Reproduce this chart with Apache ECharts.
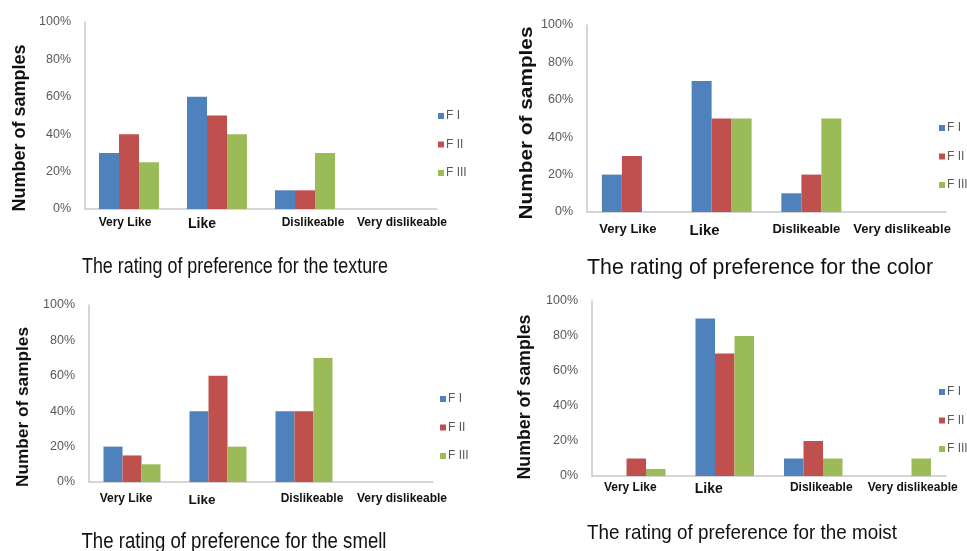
<!DOCTYPE html>
<html>
<head>
<meta charset="utf-8">
<title>Preference ratings</title>
<script src="https://cdn.jsdelivr.net/npm/echarts@6/dist/echarts.min.js"></script>
<style>
  html, body { margin: 0; padding: 0; background: #ffffff; }
  #chart { width: 967px; height: 551px; }
</style>
</head>
<body>
<div id="chart"></div>
<script>
// Rating categories and formulation names
const categories = ['Very Like', 'Like', 'Dislikeable', 'Very dislikeable'];
const formulations = ['F I', 'F II', 'F III'];

// Share of samples (%) per category
const textureFI   = [30, 60, 10, 0];
const textureFII  = [40, 50, 10, 0];
const textureFIII = [25, 40, 30, 0];

const colorFI   = [20, 70, 10, 0];
const colorFII  = [30, 50, 20, 0];
const colorFIII = [0, 50, 50, 0];

const smellFI   = [20, 40, 40, 0];
const smellFII  = [15, 60, 40, 0];
const smellFIII = [10, 20, 70, 0];

const moistFI   = [0, 90, 10, 0];
const moistFII  = [10, 70, 20, 0];
const moistFIII = [4, 80, 10, 10];

// Panel titles
const panelTitles = [
  'The rating of preference for the texture',
  'The rating of preference for the color',
  'The rating of preference for the smell',
  'The rating of preference for the moist'
];
const yAxisTitle = 'Number of samples';

const palette = ['#4F81BD', '#C0504D', '#9BBB59'];
const sans = '"Liberation Sans", Arial, sans-serif';

// Horizontal squeeze so plain Liberation Sans reads like a narrow face
const measureCtx = document.createElement('canvas').getContext('2d');
function squeeze(text, size, weight, width) {
  measureCtx.font = weight + ' ' + size + 'px "Liberation Sans"';
  return width / measureCtx.measureText(text).width;
}

// Layout of each panel
const panels = [
  { values: [textureFI, textureFII, textureFIII],
    grid: { left: 85, top: 22, width: 352, height: 187 }, barWidth: 20,
    labelSize: 12, likeSize: 14, labelMargin: 8, labelShift: [-4, -15, 8, 9],
    legend: { left: 433, top: 104 },
    title: { x: 235, y: 267, size: 21.5, width: 306 },
    yName: { x: 20, y: 128, size: 17.5, width: 167 } },
  { values: [colorFI, colorFII, colorFIII],
    grid: { left: 587, top: 25, width: 359, height: 187 }, barWidth: 20,
    labelSize: 13, likeSize: 15, labelMargin: 11, labelShift: [-4, -17, -5, 1],
    legend: { left: 934, top: 116 },
    title: { x: 760, y: 268, size: 22, width: 346 },
    yName: { x: 527, y: 123, size: 19, width: 193 } },
  { values: [smellFI, smellFII, smellFIII],
    grid: { left: 89, top: 305, width: 344, height: 177 }, barWidth: 19,
    labelSize: 12, likeSize: 13.5, labelMargin: 11, labelShift: [-6, -16, 8, 12],
    legend: { left: 435, top: 387 },
    title: { x: 234, y: 542, size: 21.5, width: 305 },
    yName: { x: 23, y: 407, size: 17, width: 160 } },
  { values: [moistFI, moistFII, moistFIII],
    grid: { left: 592, top: 301, width: 354, height: 175 }, barWidth: 19.5,
    labelSize: 12, likeSize: 14, labelMargin: 6, labelShift: [-6, -16, 8, 11],
    legend: { left: 934, top: 380 },
    title: { x: 742, y: 533, size: 21, width: 310 },
    yName: { x: 525, y: 397, size: 17.5, width: 165 } }
];

const grids = [], xAxes = [], yAxes = [], series = [], legends = [], graphics = [];

panels.forEach((p, i) => {
  grids.push(Object.assign({ containLabel: false }, p.grid));

  xAxes.push({
    type: 'category',
    gridIndex: i,
    data: categories.map((c, k) => {
      const s = p.labelShift[k];
      return {
        value: c,
        textStyle: {
          fontSize: c === 'Like' ? p.likeSize : p.labelSize,
          padding: s < 0 ? [0, -2 * s, 0, 0] : [0, 0, 0, 2 * s]
        }
      };
    }),
    axisLine: { lineStyle: { color: '#C8C8C8', width: 1.5 } },
    axisTick: { show: false },
    axisLabel: {
      interval: 0,
      margin: p.labelMargin,
      color: '#111111',
      fontWeight: 'bold',
      fontFamily: sans
    },
    splitLine: { show: false }
  });

  yAxes.push({
    type: 'value',
    gridIndex: i,
    min: 0,
    max: 100,
    interval: 20,
    axisLine: { show: true, lineStyle: { color: '#C8C8C8', width: 1.5 } },
    axisTick: { show: false },
    splitLine: { show: false },
    axisLabel: {
      formatter: '{value}%',
      margin: 14,
      color: '#595959',
      fontSize: 12.5,
      fontFamily: sans
    }
  });

  formulations.forEach((name, j) => {
    series.push({
      type: 'bar',
      name: name,
      xAxisIndex: i,
      yAxisIndex: i,
      data: p.values[j],
      barWidth: p.barWidth,
      barGap: '0%',
      itemStyle: { color: palette[j] },
      emphasis: { disabled: true }
    });
  });

  legends.push({
    orient: 'vertical',
    left: p.legend.left,
    top: p.legend.top,
    data: formulations,
    icon: 'rect',
    itemWidth: 6,
    itemHeight: 6,
    itemGap: 14.5,
    selectedMode: false,
    textStyle: { color: '#595959', fontSize: 12, fontFamily: sans, lineHeight: 14, padding: [0, 0, 0, -3] }
  });

  graphics.push({
    type: 'text',
    x: p.title.x,
    y: p.title.y,
    scaleX: squeeze(panelTitles[i], p.title.size, 'normal', p.title.width),
    style: {
      text: panelTitles[i],
      fill: '#111111',
      fontSize: p.title.size,
      fontFamily: sans,
      align: 'center',
      verticalAlign: 'middle'
    }
  });

  graphics.push({
    type: 'text',
    x: p.yName.x,
    y: p.yName.y,
    rotation: Math.PI / 2,
    scaleX: squeeze(yAxisTitle, p.yName.size, 'bold', p.yName.width),
    style: {
      text: yAxisTitle,
      fill: '#111111',
      fontSize: p.yName.size,
      fontWeight: 'bold',
      fontFamily: sans,
      align: 'center',
      verticalAlign: 'middle'
    }
  });
});

const chart = echarts.init(document.getElementById('chart'), null, { renderer: 'canvas' });
chart.setOption({
  animation: false,
  backgroundColor: '#ffffff',
  grid: grids,
  xAxis: xAxes,
  yAxis: yAxes,
  legend: legends,
  series: series,
  graphic: graphics
});
</script>
</body>
</html>
